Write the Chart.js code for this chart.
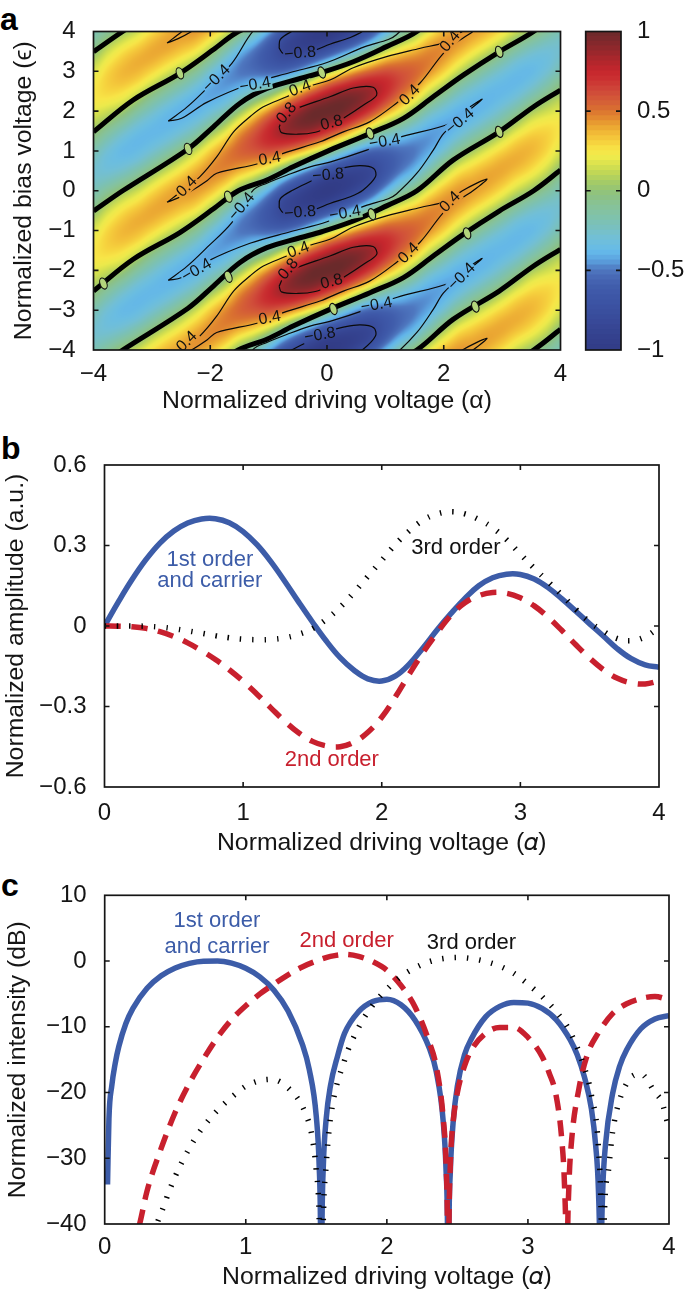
<!DOCTYPE html>
<html><head><meta charset="utf-8">
<style>
html,body{margin:0;padding:0;background:#fff}
body{width:685px;height:1293px;position:relative;overflow:hidden}
canvas{position:absolute}
.tag{position:absolute;font:bold 32px "Liberation Sans",sans-serif;color:#000;line-height:32px}
</style>
<script src="https://cdn.jsdelivr.net/npm/chart.js@4"></script>
</head><body>
<div class="tag" style="left:0px;top:3px">a</div>
<div class="tag" style="left:1px;top:432px">b</div>
<div class="tag" style="left:1px;top:869px">c</div>
<canvas id="ca" width="685" height="425" style="left:0;top:0;width:685px;height:425px"></canvas>
<canvas id="cbar" width="125" height="425" style="left:560px;top:0;width:125px;height:425px"></canvas>
<canvas id="cb" width="685" height="440" style="left:0;top:425px;width:685px;height:440px"></canvas>
<canvas id="cc" width="685" height="428" style="left:0;top:865px;width:685px;height:428px"></canvas>
<script>
/* ---------- panel a: field (x100). One column per alpha, rows eps = 0 .. 3.75; the map repeats every 4 in eps */
const bandAlpha=[-4,-3.75,-3.5,-3.25,-3,-2.75,-2.5,-2.25,-2,-1.75,-1.5,-1.25,-1,-.75,-.5,-.25,0,.25,.5,.75,1,1.25,1.5,1.75,2,2.25,2.5,2.75,3,3.25,3.5,3.75,4];
const bandValues=[
[-20,-26,-28,-25,-19,-9,1,11,18,24,25,23,17,9,-1,-12],
[-10,-22,-30,-33,-30,-22,-11,2,13,23,29,31,29,23,14,3],
[2,-13,-26,-34,-37,-33,-24,-11,4,17,27,34,36,33,26,15],
[13,-2,-16,-29,-36,-38,-34,-25,-12,3,17,29,36,38,34,25],
[26,13,-2,-17,-29,-36,-38,-34,-25,-13,2,17,29,37,39,35],
[36,26,12,-3,-18,-30,-37,-39,-35,-25,-12,3,18,30,38,40],
[41,36,25,11,-4,-19,-31,-38,-40,-35,-24,-10,5,20,32,39],
[42,43,37,26,12,-5,-20,-32,-40,-41,-35,-24,-9,7,23,35],
[35,43,45,40,30,15,-2,-19,-32,-41,-43,-38,-28,-12,5,21],
[19,35,45,48,44,32,16,-2,-20,-34,-43,-46,-42,-32,-17,1],
[-2,18,37,49,54,50,39,21,0,-19,-35,-46,-50,-47,-37,-21],
[-18,4,27,46,58,62,56,42,22,-2,-24,-41,-53,-56,-51,-37],
[-40,-16,12,39,60,72,73,63,43,16,-12,-36,-56,-66,-67,-58],
[-65,-41,-10,23,53,75,86,82,66,39,7,-26,-54,-74,-84,-81],
[-83,-62,-32,3,40,70,89,95,85,62,29,-7,-42,-69,-87,-92],
[-95,-80,-51,-16,22,57,85,98,98,82,53,17,-21,-55,-82,-96],
[-100,-93,-71,-37,2,39,71,92,100,93,72,41,3,-36,-69,-92],
[-95,-96,-82,-55,-21,17,53,82,98,98,85,57,22,-16,-51,-80],
[-83,-92,-87,-69,-42,-7,29,62,85,95,89,70,40,3,-32,-62],
[-65,-81,-84,-74,-54,-26,7,39,66,82,86,75,53,23,-10,-41],
[-40,-58,-67,-66,-56,-36,-12,16,43,63,73,72,60,39,12,-16],
[-18,-37,-51,-56,-53,-41,-24,-2,22,42,56,62,58,46,27,4],
[-2,-21,-37,-47,-50,-46,-35,-19,0,21,39,50,54,49,37,18],
[19,1,-17,-32,-42,-46,-43,-34,-20,-2,16,32,44,48,45,35],
[35,21,5,-12,-28,-38,-43,-41,-32,-19,-2,15,30,40,45,43],
[42,35,23,7,-9,-24,-35,-41,-40,-32,-20,-5,12,26,37,43],
[41,39,32,20,5,-10,-24,-35,-40,-38,-31,-19,-4,11,25,36],
[36,40,38,30,18,3,-12,-25,-35,-39,-37,-30,-18,-3,12,26],
[26,35,39,37,29,17,2,-13,-25,-34,-38,-36,-29,-17,-2,13],
[13,25,34,38,36,29,17,3,-12,-25,-34,-38,-36,-29,-16,-2],
[2,15,26,33,36,34,27,17,4,-11,-24,-33,-37,-34,-26,-13],
[-10,3,14,23,29,31,29,23,13,2,-11,-22,-30,-33,-30,-22],
[-20,-12,-1,9,17,23,25,24,18,11,1,-9,-19,-25,-28,-26]];
const paletteStops=["#323c86","#333f8b","#354390","#374795","#394c9b","#3a50a0","#3c54a4","#3e58a8","#415eac","#4768b4","#4f78c0","#5a9cdb","#62b5ea","#6abde2","#72bfd6","#78c0c4","#7cc1b4","#82c2a6","#87c298","#8bc188","#93c476","#a5cb66","#bcd558","#d4e04f","#ecea4c","#f7e648","#f6d23e","#f2bd38","#eaa532","#e28b30","#da7230","#d56036","#d1503a","#cd4037","#ca3031","#c5262d","#b3262c","#9f272c","#8b282c","#7a292c","#6a2a2b"];
const zeroRising=[[-4,-2.52],[-3.32,-1.72],[-2.52,-1.05],[-1.95,-.46],[-1.52,0],[-1.03,.27],[-.58,.6],[.05,1.02],[.737,1.44],[1.31,1.82],[1.82,2.36],[2.34,2.91],[2.95,3.49],[3.54,4],[4,4.52]];
const zeroFalling=[[-4,-.51],[-3.5,0],[-2.38,1.05],[-1.95,1.6],[-1.49,2.2],[-1.03,2.57],[-.46,2.82],[-.09,2.97],[.45,3.24],[1.02,3.62],[1.54,4],[2.16,4.77],[2.95,5.48],[3.54,6.11],[4,6.53]];
const contourPos04=[[-2.74,-.29],[-2.5,-.02],[-2.18,.35],[-1.89,.85],[-1.6,1.48],[-1.32,1.86],[-1.09,2.11],[-.69,2.36],[-.29,2.63],[.05,2.78],[.45,3.09],[1.02,3.37],[1.6,3.58],[2.05,3.74],[2.32,4],[2.55,4.18],[2.74,4.29],[2.5,4],[2.05,3.54],[1.59,2.7],[1.19,2.2],[.73,1.73],[.28,1.48],[-.12,1.23],[-.75,.94],[-1.15,.69],[-1.89,.44],[-2.05,.26],[-2.32,0],[-2.55,-.18],[-2.74,-.29]];
const contourPos08=[[-.82,1.6],[-.78,1.46],[-.5,1.42],[-.2,1.47],[.05,1.62],[.28,1.82],[.62,2.15],[.85,2.4],[.79,2.6],[.45,2.58],[.05,2.36],[-.58,2.03],[-.72,1.9],[-.82,1.6]];
const contourNeg04=[[-2.72,-2.25],[-2.4,-1.9],[-2.06,-1.43],[-1.63,-.8],[-1.26,.02],[-1.03,.19],[-.69,.39],[-.29,.6],[.05,.72],[.68,1.02],[1.19,1.32],[2.11,1.69],[2.35,2],[2.66,2.3],[2.37,1.94],[2,1.44],[1.82,1.02],[1.54,.44],[1.19,-.08],[1.05,-.2],[.65,-.38],[0,-.78],[-.63,-1.03],[-1.32,-1.32],[-2.06,-1.78],[-2.49,-2.18],[-2.72,-2.25]];
const contourNeg08=[[-.82,-.42],[-.8,-.2],[-.58,.02],[-.23,.27],[.05,.48],[.3,.58],[.57,.63],[.8,.56],[.83,.35],[.62,.02],[.4,-.15],[.05,-.32],[-.23,-.48],[-.5,-.55],[-.75,-.55],[-.82,-.42]];
const periodShiftsZero=[8,4,0,-4,-8];
const periodShiftsPos=[4,0,-4,-8];
const periodShiftsNeg=[4,0,-4];
const ovalMarks=[[-2.52,2.95],[-2.38,1.05],[-1.69,-.15],[-3.83,-2.33],[-1.69,-2.16],[-.09,2.97],[.737,1.44],[2.95,3.49],[2.95,1.48],[.11,-2.97],[.77,-.59],[2.4,-1.07],[2.54,-2.91]];
const contourLabels=[
["−0.4",-1.89,2.82,45],["−0.4",-1.23,2.66,10],["−0.8",-.46,3.45,5],["0.4",-.46,2.57,20],["0.4",-.98,.8,10],["0.4",-2.4,.1,45],["0.4",2.11,3.75,50],["0.4",1.42,2.4,45],
["0.8",-.69,1.95,50],["0.8",.08,1.7,15],["−0.4",.99,1.23,10],["−0.4",2.28,1.74,40],["−0.8",.02,.39,5],["−0.8",-.46,-.55,5],["−0.4",-1.46,-.4,50],["−0.4",-2.23,-2,30],
["0.4",-.49,-1.49,20],["0.4",-.98,-3.2,10],["0.4",-2.4,-3.79,45],["0.8",-.66,-1.97,50],["0.8",.08,-2.29,15],["0.4",2.11,-.28,45],["0.4",1.4,-1.57,45],
["−0.4",.31,-.57,10],["−0.4",2.31,-2.16,45],["−0.4",.85,-2.87,10],["−0.8",-.12,-3.63,10]];
/* ---------- panel b */
const alphaB=[0,.1,.2,.3,.4,.5,.6,.7,.8,.9,1,1.1,1.2,1.3,1.4,1.5,1.6,1.7,1.8,1.9,2,2.1,2.2,2.3,2.4,2.5,2.6,2.7,2.8,2.9,3,3.1,3.2,3.3,3.4,3.5,3.6,3.7,3.8,3.9,4];
const ampFirst=[0,.09,.174,.248,.309,.354,.384,.399,.4,.385,.352,.303,.24,.167,.09,.015,-.056,-.118,-.165,-.197,-.205,-.186,-.141,-.08,-.014,.047,.103,.15,.18,.193,.192,.175,.143,.101,.055,.008,-.038,-.085,-.122,-.145,-.154];
const ampSecond=[0,-.001,-.003,-.009,-.021,-.039,-.063,-.092,-.125,-.163,-.206,-.254,-.305,-.355,-.398,-.43,-.447,-.45,-.433,-.396,-.34,-.263,-.178,-.097,-.025,.04,.087,.113,.125,.122,.105,.075,.033,-.017,-.07,-.12,-.163,-.195,-.212,-.216,-.205];
const ampThird=[0,0,0,-.001,-.004,-.01,-.018,-.027,-.036,-.044,-.049,-.051,-.05,-.044,-.031,-.01,.025,.07,.125,.185,.245,.305,.355,.395,.418,.426,.418,.397,.366,.322,.268,.215,.165,.115,.062,.015,-.02,-.047,-.055,-.04,-.005];
/* ---------- panel c */
const alphaCFirst=[.02,.03,.05,.075,.1,.15,.2,.3,.4,.5,.6,.7,.8,.9,1,1.1,1.2,1.3,1.4,1.45,1.5,1.52,1.53,1.535,1.54,1.55,1.57,1.6,1.65,1.7,1.8,1.9,2,2.1,2.2,2.3,2.35,2.4,2.42,2.43,2.435,2.44,2.45,2.47,2.5,2.55,2.6,2.7,2.8,2.9,3,3.1,3.2,3.3,3.35,3.4,3.45,3.48,3.5,3.51,3.515,3.52,3.53,3.55,3.6,3.65,3.7,3.8,3.9,4];
const dbFirst=[-34,-24,-19,-15.5,-13,-9.5,-7.2,-4.15,-2.25,-1.06,-.35,-.02,0,-.33,-1.11,-2.41,-4.44,-7.6,-12.6,-16.5,-23.7,-31,-41,-60,-41,-31,-24,-19,-14.5,-11,-7.7,-6.15,-5.8,-6.65,-9,-13.2,-16.8,-24.5,-32,-41,-60,-41,-32,-24.5,-19,-14.3,-11.8,-8.5,-6.9,-6.3,-6.4,-7.2,-8.9,-12,-14.3,-17.6,-22.5,-28,-35,-45,-60,-45,-35,-27.9,-20.2,-16,-13.5,-10.3,-8.8,-8.3];
const alphaCSecond=[.2,.25,.3,.4,.5,.6,.7,.8,.9,1,1.1,1.2,1.3,1.4,1.5,1.6,1.7,1.8,1.9,2,2.1,2.2,2.3,2.35,2.4,2.42,2.43,2.435,2.44,2.45,2.47,2.5,2.55,2.6,2.7,2.8,2.9,3,3.1,3.15,3.2,3.24,3.26,3.27,3.275,3.28,3.29,3.31,3.36,3.42,3.5,3.6,3.7,3.8,3.9,4];
const dbSecond=[-44,-39.8,-35,-28.5,-23,-18.6,-14.9,-11.6,-8.9,-6.8,-5,-3.5,-2.1,-.9,0,.7,1,.7,-.1,-1.4,-3.7,-7,-12.3,-16,-24,-31,-41,-60,-41,-31,-24.5,-20,-16,-13.5,-11,-10.1,-10.1,-11.6,-14.5,-17,-20.5,-27.2,-34.5,-44,-60,-44,-34.5,-27.2,-19.6,-14.3,-10.9,-8,-6.5,-5.7,-5.4,-5.9];
const alphaCThird=[.3,.37,.415,.46,.545,.65,.77,.89,1.02,1.18,1.31,1.42,1.47,1.5,1.52,1.535,1.55,1.57,1.6,1.7,1.8,1.9,2,2.1,2.2,2.3,2.4,2.5,2.6,2.7,2.8,2.9,3,3.1,3.2,3.3,3.4,3.45,3.5,3.52,3.53,3.54,3.57,3.6,3.7,3.8,3.9,3.95,4];
const dbThird=[-45,-40,-37.5,-34.8,-30.7,-26.7,-23.4,-20.9,-18.8,-18,-19.5,-23,-26.7,-32,-39,-60,-39,-31,-24,-15.1,-10.1,-6.7,-4.3,-2.35,-1.04,-.1,.38,.55,.38,-.07,-.77,-1.88,-3.5,-5.4,-7.7,-10.8,-16.2,-20.4,-28.5,-40,-60,-40,-32,-26,-18.6,-17.2,-20,-21.5,-25.6];
/* ---------- text */
const xTitleA="Normalized driving voltage (α)";
const xTitleBC="Normalized driving voltage (𝛼)";
const yTitleA="Normalized bias voltage (ϵ)";
const yTitleB="Normalized amplitude (a.u.)";
const yTitleC="Normalized intensity (dB)";
const notesB=[["1st order",.76,.246,"#3c5ca8"],["and carrier",.76,.168,"#3c5ca8"],["2nd order",1.64,-.5,"#c8202e"],["3rd order",2.535,.29,"#111"]];
const notesC=[["1st order",.796,6.09,"#3c5ca8"],["and carrier",.796,2.14,"#3c5ca8"],["2nd order",1.715,3.05,"#c8202e"],["3rd order",2.6,2.8,"#111"]];

const FONT='"Liberation Sans",sans-serif', INK='#151515', BLUE='#3c5ca8', RED='#c8202e';
Chart.defaults.font.family=FONT;
const fmt=v=>{const n=Number(Number(v).toFixed(2));return n<0?'−'+Math.abs(n):String(n)};
const hex=h=>[1,3,5].map(i=>parseInt(h.substr(i,2),16));
const paletteRGB=paletteStops.map(hex);
function colorOf(v){
  const t=Math.max(0,Math.min(paletteRGB.length-1.001,(v+1)/.05)),i=Math.floor(t),f=t-i,a=paletteRGB[i],b=paletteRGB[i+1];
  return [a[0]+(b[0]-a[0])*f,a[1]+(b[1]-a[1])*f,a[2]+(b[2]-a[2])*f];
}
const cr=(p0,p1,p2,p3,t)=>p1+.5*t*(p2-p0+t*(2*p0-5*p1+4*p2-p3+t*(3*(p1-p2)+p3-p0)));
function fieldAt(a,e){
  const nc=bandAlpha.length,cx=(a-bandAlpha[0])/(bandAlpha[1]-bandAlpha[0]);
  const ci=Math.max(0,Math.min(nc-2,Math.floor(cx))),fx=cx-ci;
  const ry=((e%4)+4)%4/.25,ri=Math.floor(ry),fy=ry-ri;
  const col=c=>{const C=bandValues[Math.max(0,Math.min(nc-1,c))];return cr(C[(ri+15)%16],C[ri%16],C[(ri+1)%16],C[(ri+2)%16],fy)};
  return cr(col(ci-1),col(ci),col(ci+1),col(ci+2),fx)/100;
}
function frameTicks(chart,opts){
  const {ctx,chartArea:A,scales:S}=chart;
  ctx.save();ctx.strokeStyle=INK;ctx.lineWidth=1.7;ctx.strokeRect(A.left,A.top,A.right-A.left,A.bottom-A.top);
  ctx.lineWidth=1.6;const L=5;ctx.beginPath();
  if(!opts.noX)S.x.ticks.forEach(t=>{const p=S.x.getPixelForValue(t.value);if(p<=A.left+1||p>=A.right-1)return;ctx.moveTo(p,A.bottom);ctx.lineTo(p,A.bottom-L);ctx.moveTo(p,A.top);ctx.lineTo(p,A.top+L)});
  S.y.ticks.forEach(t=>{const p=S.y.getPixelForValue(t.value);if(p<=A.top+1||p>=A.bottom-1)return;ctx.moveTo(A.left,p);ctx.lineTo(A.left+L,p);ctx.moveTo(A.right,p);ctx.lineTo(A.right-L,p)});
  ctx.stroke();ctx.restore();
}
function notesPlugin(notes){return {id:'notes',afterDatasetsDraw(chart){
  const {ctx,scales:S}=chart;ctx.save();ctx.font='22px '+FONT;ctx.textAlign='center';ctx.textBaseline='middle';
  notes.forEach(([t,a,v,c])=>{ctx.fillStyle=c;ctx.fillText(t,S.x.getPixelForValue(a),S.y.getPixelForValue(v))});
  ctx.restore();frameTicks(chart,{});
}}}
const heatPlugin={id:'heat',
  beforeDatasetsDraw(chart){
    const {ctx,chartArea:A,scales:S}=chart,w=Math.ceil(A.right-A.left),h=Math.ceil(A.bottom-A.top);
    const off=document.createElement('canvas');off.width=w;off.height=h;
    const oc=off.getContext('2d'),img=oc.createImageData(w,h);
    for(let j=0;j<h;j++){const e=S.y.getValueForPixel(A.top+j+.5);
      for(let i=0;i<w;i++){const a=S.x.getValueForPixel(A.left+i+.5),c=colorOf(fieldAt(a,e)),k=4*(j*w+i);
        img.data[k]=c[0];img.data[k+1]=c[1];img.data[k+2]=c[2];img.data[k+3]=255;}}
    oc.putImageData(img,0,0);
    ctx.drawImage(off,A.left,A.top,A.right-A.left,A.bottom-A.top);
    /* contour lines break around their labels */
    ctx.save();ctx.beginPath();ctx.rect(0,0,chart.width,chart.height);
    contourLabels.forEach(([t,a,e,r])=>{
      const x=S.x.getPixelForValue(a),y=S.y.getPixelForValue(e),th=-r*Math.PI/180,c=Math.cos(th),s=Math.sin(th),hw=t.length>3?17:13,hh=6.5;
      [[-hw,-hh],[hw,-hh],[hw,hh],[-hw,hh]].forEach(([u,v],n)=>{const X=x+u*c-v*s,Y=y+u*s+v*c;n?ctx.lineTo(X,Y):ctx.moveTo(X,Y)});ctx.closePath();
    });
    ctx.clip('evenodd');
  },
  afterDatasetsDraw(chart){
    const {ctx,chartArea:A,scales:S}=chart;ctx.restore();
    ctx.save();ctx.beginPath();ctx.rect(A.left,A.top,A.right-A.left,A.bottom-A.top);ctx.clip();
    ovalMarks.forEach(([a,e])=>{ctx.beginPath();ctx.ellipse(S.x.getPixelForValue(a),S.y.getPixelForValue(e),3.4,5.8,-20*Math.PI/180,0,7);ctx.fillStyle='#b3d57c';ctx.fill();ctx.lineWidth=1.1;ctx.strokeStyle='#111';ctx.stroke()});
    ctx.font='16px '+FONT;ctx.fillStyle='#111';ctx.textAlign='center';ctx.textBaseline='middle';
    contourLabels.forEach(([t,a,e,r])=>{ctx.save();ctx.translate(S.x.getPixelForValue(a),S.y.getPixelForValue(e));ctx.rotate(-r*Math.PI/180);ctx.fillText(t,0,0);ctx.restore()});
    ctx.restore();frameTicks(chart,{});
  }};
function axes(g){
  return {
    x:{type:'linear',min:g.xmin,max:g.xmax,grid:{display:false},border:{display:false},
       ticks:{stepSize:g.xstep,padding:g.xpad,color:INK,font:{size:24},maxRotation:0,autoSkip:false,callback:fmt},
       title:{display:true,text:g.xtitle,color:INK,font:{size:24.8},padding:{top:g.xtp,bottom:g.xtp}},
       afterFit(s){s.height=g.H-g.bottom;s.paddingLeft=s.paddingRight=s.paddingTop=s.paddingBottom=0}},
    y:{type:'linear',min:g.ymin,max:g.ymax,grid:{display:false},border:{display:false},
       ticks:{stepSize:g.ystep,padding:10,color:INK,font:{size:24},autoSkip:false,callback:fmt},
       title:{display:true,text:g.ytitle,color:INK,font:{size:24.8},padding:{top:g.ytp,bottom:g.ytp}},
       afterFit(s){s.width=g.left;s.paddingLeft=s.paddingRight=s.paddingTop=s.paddingBottom=0}}
  };
}
const lay=g=>({autoPadding:false,padding:{top:g.top,right:685-g.right,left:0,bottom:0}});
const base={responsive:false,animation:false,events:[],plugins:{legend:{display:false},tooltip:{enabled:false}}};
/* panel a */
const thick=(pts,sh)=>({data:pts.map(([a,e])=>({x:a,y:e+sh})),showLine:true,pointRadius:0,borderColor:'#000',borderWidth:5,tension:.35,borderCapStyle:'butt'});
const thin=(pts,sh)=>({data:pts.map(([a,e])=>({x:a,y:e+sh})),showLine:true,pointRadius:0,borderColor:'#0a0a0a',borderWidth:1.2,tension:.35});
const gA={H:425,top:31.5,bottom:350,left:93.5,right:560.5,xmin:-4,xmax:4,xstep:2,ymin:-4,ymax:4,ystep:1,xpad:2,xtp:8.5,ytp:9,xtitle:xTitleA,ytitle:yTitleA};
new Chart('ca',{type:'scatter',data:{datasets:[
  ...periodShiftsZero.flatMap(s=>[thick(zeroRising,s),thick(zeroFalling,s)]),
  ...periodShiftsPos.flatMap(s=>[thin(contourPos04,s),thin(contourPos08,s)]),
  ...periodShiftsNeg.flatMap(s=>[thin(contourNeg04,s),thin(contourNeg08,s)])
]},options:{...base,layout:lay(gA),scales:axes(gA)},plugins:[heatPlugin]});
/* colour bar: bands sampled from the palette */
const barLevels=Array.from({length:64},(_,i)=>{const lo=-1+i/32,c=colorOf(lo+1/64);return {lo,color:`rgb(${c.map(Math.round).join(',')})`}});
new Chart('cbar',{type:'bar',data:{labels:[''],datasets:barLevels.map(l=>({data:[[l.lo,l.lo+1/32+.003]],backgroundColor:l.color,barPercentage:1,categoryPercentage:1,grouped:false}))},
  options:{...base,layout:{autoPadding:false,padding:{left:25.7,top:31.5,bottom:75,right:0}},
    scales:{x:{display:false},y:{position:'right',min:-1,max:1,grid:{display:false},border:{display:false},
      ticks:{stepSize:.5,padding:8,color:INK,font:{size:24},callback:fmt},
      afterFit(s){s.width=64;s.paddingTop=s.paddingBottom=0}}}},
  plugins:[{id:'frame',afterDatasetsDraw(c){frameTicks(c,{noX:true})}}]});
/* panels b, c */
const pts=(xs,ys)=>xs.map((x,i)=>({x,y:ys[i]}));
const line=(d,color,w,dash,smooth)=>({data:d,showLine:true,pointRadius:0,borderColor:color,borderWidth:w,borderDash:dash,borderCapStyle:'butt',clip:0,...smooth});
const soft={tension:.4}, mono={cubicInterpolationMode:'monotone'};
const gB={H:440,top:40,bottom:362,left:104.5,right:659,xmin:0,xmax:4,xstep:1,ymin:-.6,ymax:.6,ystep:.3,xpad:4,xtp:7,ytp:1,xtitle:xTitleBC,ytitle:yTitleB};
new Chart('cb',{type:'scatter',data:{datasets:[
  line(pts(alphaB,ampThird),'#000',5.5,[1.4,11],soft),
  line(pts(alphaB,ampSecond),RED,5.5,[16,11],soft),
  line(pts(alphaB,ampFirst),BLUE,5.5,[],soft)
]},options:{...base,layout:lay(gB),scales:axes(gB)},plugins:[notesPlugin(notesB)]});
const gC={H:428,top:30.3,bottom:359,left:104.7,right:669,xmin:0,xmax:4,xstep:1,ymin:-40,ymax:10,ystep:10,xpad:1,xtp:1,ytp:3.5,xtitle:xTitleBC,ytitle:yTitleC};
new Chart('cc',{type:'scatter',data:{datasets:[
  line(pts(alphaCThird,dbThird),'#000',5.5,[1.4,11],mono),
  line(pts(alphaCSecond,dbSecond),RED,5.5,[16,10],mono),
  line(pts(alphaCFirst,dbFirst),BLUE,5.5,[],mono)
]},options:{...base,layout:lay(gC),scales:axes(gC)},plugins:[notesPlugin(notesC)]});
</script>
</body></html>
